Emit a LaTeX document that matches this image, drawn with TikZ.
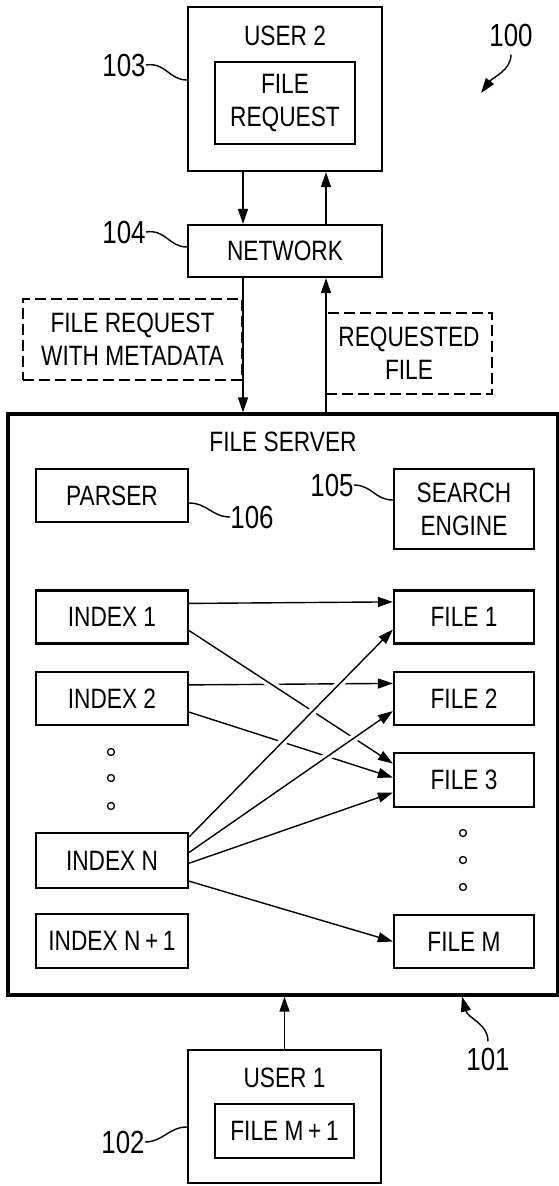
\documentclass[tikz,border=0pt]{standalone}
\usepackage{fontspec}
\setmainfont{Liberation Sans}[FakeStretch=0.81]
\usetikzlibrary{arrows.meta}

\begin{document}
\begin{tikzpicture}[x=1pt,y=-1pt,
    font=\fontsize{28}{33}\selectfont,
    box/.style={draw,line width=2.2pt,inner sep=0pt,align=center},
    tagbox/.style={draw,line width=1.5pt,dash pattern=on 11pt off 5pt,
                   inner sep=0pt,align=center},
    idx/.style={box,minimum width=152pt,minimum height=53pt},
    fil/.style={box,minimum width=140pt,minimum height=53pt},
    refnum/.style={inner sep=0pt,font=\fontsize{32}{36}\selectfont},
    link/.style={-{Triangle[length=15pt,width=10pt]},line width=1.4pt},
    lead/.style={line width=1.4pt},
    over/.style={preaction={draw=white,-,line width=8pt,
                 shorten <=24pt,shorten >=24pt}},
    dot/.style={circle,draw,line width=1.3pt,inner sep=0pt,minimum size=7pt}]
  \useasboundingbox (0,0) rectangle (559,1186);

  % user 2 and the network
  \node[box,minimum width=194pt,minimum height=164pt] (user2) at (285,89) {};
  \node (user2txt) at (285,36) {USER 2};
  \node[box,minimum width=140pt,minimum height=82pt] (freq) at (285,103) {FILE\\REQUEST};
  \node[box,minimum width=194pt,minimum height=52pt] (net) at (285,251) {NETWORK};
  \node[tagbox,minimum width=219pt,minimum height=81pt] (reqtag) at (132.5,339.5)
    {FILE REQUEST\\WITH METADATA};
  \node[tagbox,minimum width=166pt,minimum height=81pt] (filetag) at (409,353.5)
    {REQUESTED\\FILE};

  % file server
  \node[box,line width=3.2pt,minimum width=550pt,minimum height=581pt] (server) at (283,704.5) {};
  \node (servertxt) at (283,442) {FILE SERVER};
  \node[box,minimum width=152pt,minimum height=53pt] (parser) at (112,495.5) {PARSER};
  \node[box,minimum width=140pt,minimum height=80pt] (search) at (464,509) {SEARCH\\ENGINE};

  \node[idx] (i1) at (112,617) {INDEX 1};
  \node[idx] (i2) at (112,698.5) {INDEX 2};
  \node[idx,minimum height=55pt] (in) at (112,860.5) {INDEX N};
  \node[idx,minimum height=54pt] (in1) at (112,941) {INDEX N\,+\,1};
  \node[dot] (ld1) at (111,752) {};
  \node[dot] (ld2) at (111,778) {};
  \node[dot] (ld3) at (111,806) {};

  \node[fil] (f1) at (464,617) {FILE 1};
  \node[fil] (f2) at (464,698.5) {FILE 2};
  \node[fil,minimum height=54pt] (f3) at (464,780) {FILE 3};
  \node[fil] (fm) at (464,941.5) {FILE M};
  \node[dot] (rd1) at (463,833) {};
  \node[dot] (rd2) at (463,860) {};
  \node[dot] (rd3) at (463,887) {};

  % user 1
  \node[box,minimum width=193pt,minimum height=133pt] (user1) at (284.5,1116.5) {};
  \node (user1txt) at (284.5,1078) {USER 1};
  \node[box,minimum width=139pt,minimum height=54pt] (fm1) at (284.5,1131) {FILE M\,+\,1};

  % traffic between users, network and server
  \draw[link] ([xshift=-42pt]user2.south) -- ([xshift=-42pt]net.north);
  \draw[link] ([xshift=41pt]net.north) -- ([xshift=41pt]user2.south);
  \draw[link] ([xshift=-42pt]net.south) -- ([xshift=-42pt]net.south |- server.north);
  \draw[link] ([xshift=41pt]net.south |- server.north) -- ([xshift=41pt]net.south);
  \draw[link] (user1.north) -- (user1.north |- server.south);

  % index -> file links, later ones pass over the earlier ones
  \draw[link] (i1.10.4) -- (f1.168.7);
  \draw[link] (i2.10.8) -- (f2.168.3);
  \draw[link] (i2.-10.1) -- (f3.178.4);
  \draw[link,over] (i1.-10.4) -- (f3.167);
  \draw[link,over] (in.17.2) -- (f1.190.5);
  \draw[link,over] (in.6.4) -- (f2.190.2);
  \draw[link] (in.-2.6) -- (f3.190.5);
  \draw[link] (in.-15.8) -- (fm.180);

  % reference numerals
  \node[refnum] (l100) at (511,35) {100};
  \coordinate (p100) at (481,93);
  \draw[link] ([yshift=-8pt]l100.south) .. controls +(0,16) and +(12,-16) .. (p100);

  \node[refnum] (l103) at (124,65) {103};
  \draw[lead] (l103.east) .. controls +(20,-3) and +(-18,0) .. ([yshift=9pt]user2.west);
  \node[refnum] (l104) at (124,232) {104};
  \draw[lead] (l104.east) .. controls +(20,-3) and +(-18,0) .. ([yshift=4pt]net.west);
  \node[refnum] (l106) at (252,517) {106};
  \draw[lead] ([yshift=-7.5pt]parser.east) .. controls +(18,0) and +(-18,0) .. (l106.west);
  \node[refnum] (l105) at (332,485) {105};
  \draw[lead] (l105.east) .. controls +(18,0) and +(-18,0) .. ([yshift=9pt]search.west);
  \node[refnum] (l102) at (123,1142) {102};
  \draw[lead] (l102.east) .. controls +(18,0) and +(-18,0) .. ([yshift=-10.5pt]user1.west);
  \node[refnum] (l101) at (488,1059) {101};
  \draw[link] ([yshift=6pt]l101.north) .. controls +(0,-18) and +(6,22)
    .. ([xshift=-26pt]l101.north |- server.south);
\end{tikzpicture}
\end{document}
